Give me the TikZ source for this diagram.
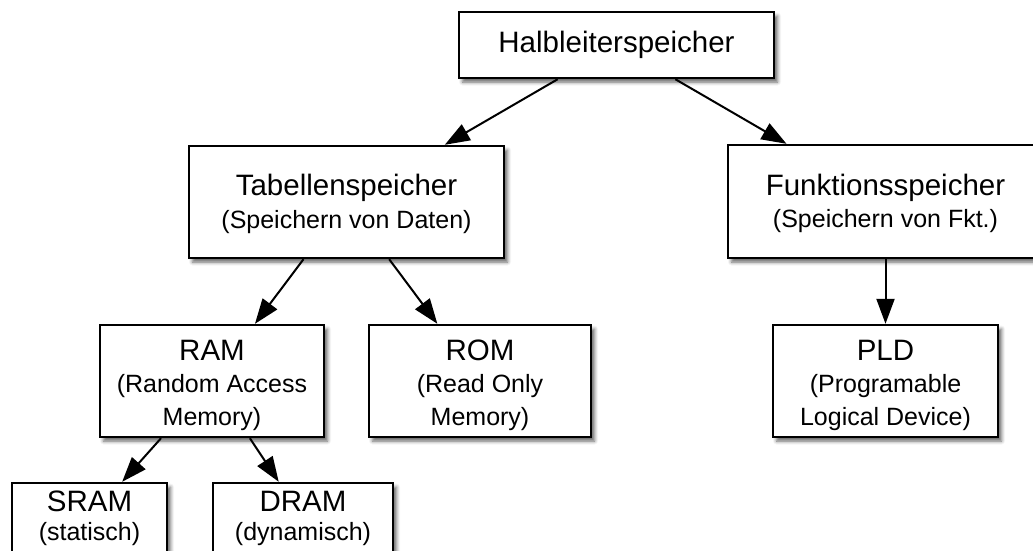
\documentclass[tikz,border=0pt]{standalone}
\usepackage{fontspec}
\setmainfont{Liberation Sans}
\usetikzlibrary{arrows.meta,shadows.blur}
\newcommand\BoxTitle[1]{{\fontsize{29.5}{32.5}\selectfont #1}}
\begin{document}
\begin{tikzpicture}[x=1pt,y=-1pt,
  box/.style={draw=black, line width=2.4pt, fill=white, inner sep=0pt, align=center,
    font=\fontsize{25}{32.5}\selectfont,
    blur shadow={shadow xshift=3.5pt, shadow yshift=-4pt, shadow blur radius=3.5pt, shadow opacity=60}},
  small/.style={font=\fontsize{25}{28.5}\selectfont},
  conn/.style={line width=2pt, -{Triangle[length=25pt,width=18pt]}}]
\useasboundingbox (0,0) rectangle (1033,550);
\clip (0,0) rectangle (1033,550);

% top level
\node[box, minimum width=315pt, minimum height=66pt] (halb) at (616.5,45)
  {\BoxTitle{Halbleiterspeicher}};

% second level
\node[box, minimum width=315pt, minimum height=112pt] (tab) at (346.5,202)
  {\rule{0pt}{25.3pt}\BoxTitle{Tabellenspeicher}\\(Speichern von Daten)};
\node[box, minimum width=315pt, minimum height=113pt] (funk) at (885.5,201.5)
  {\rule{0pt}{25.3pt}\BoxTitle{Funktionsspeicher}\\(Speichern von Fkt.)};

% third level
\node[box, minimum width=224pt, minimum height=112pt] (ram) at (212,381)
  {\rule{0pt}{28.3pt}\BoxTitle{RAM}\\(Random Access\\Memory)};
\node[box, minimum width=222pt, minimum height=112pt] (rom) at (480,381)
  {\rule{0pt}{28.3pt}\BoxTitle{ROM}\\(Read Only\\Memory)};
\node[box, minimum width=225pt, minimum height=112pt] (pld) at (885.5,381)
  {\rule{0pt}{28.3pt}\BoxTitle{PLD}\\(Programable\\Logical Device)};

% fourth level
\node[box, small, minimum width=155pt, minimum height=71pt] (sram) at (89.5,518.5)
  {\BoxTitle{SRAM}\\(statisch)};
\node[box, small, minimum width=180pt, minimum height=71pt] (dram) at (303,518.5)
  {\BoxTitle{DRAM}\\(dynamisch)};

% connectors
\draw[conn] (halb) -- (tab);
\draw[conn] (halb) -- (funk);
\draw[conn] (tab) -- (ram);
\draw[conn] (tab) -- (rom);
\draw[conn] (funk) -- (pld);
\draw[conn] (ram) -- (sram);
\draw[conn] (ram) -- (dram);
\end{tikzpicture}
\end{document}
